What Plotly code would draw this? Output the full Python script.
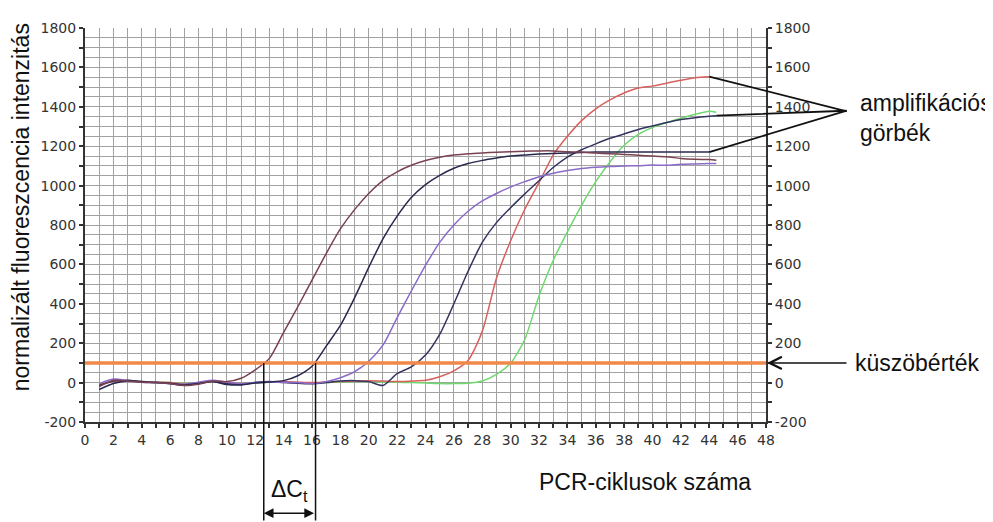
import plotly.graph_objects as go

# ---------------- data ----------------
cycles = list(range(1, 45)) + [44.5]

curve_a = [-20, 12, 8, 2, 0, -5, -15, -8, 8, 5, 22, 65, 123, 255, 385, 520, 655, 780, 878, 960,
           1025, 1070, 1103, 1127, 1144, 1155, 1162, 1166, 1169, 1172, 1174, 1176, 1176, 1172, 1170,
           1165, 1162, 1158, 1154, 1150, 1146, 1138, 1134, 1132, 1129]
curve_b = [-35, -5, 10, 5, 0, -3, -12, -5, 5, -10, -12, -2, 3, 10, 35, 83, 185, 290, 430, 585,
           730, 845, 940, 1005, 1052, 1088, 1112, 1128, 1140, 1150, 1155, 1160, 1163, 1166, 1168,
           1170, 1170, 1170, 1170, 1170, 1170, 1170, 1170, 1170, None]
curve_c = [-5, 18, 10, 2, 0, -4, -8, 2, 12, 2, -5, 0, 3, 2, 0, -5, 5, 25, 55, 108,
           190, 330, 465, 595, 712, 800, 870, 922, 960, 993, 1020, 1045, 1063, 1077, 1087,
           1093, 1097, 1100, 1101, 1104, 1103, 1108, 1110, 1112, 1112]
curve_d = [-15, 8, 12, 3, 0, -6, -14, -4, 6, -6, -10, 0, 5, 0, -3, -6, 0, 8, 10, 5,
           -15, 45, 80, 140, 245, 400, 565, 712, 812, 888, 958, 1025, 1092, 1145, 1182,
           1212, 1240, 1262, 1285, 1303, 1320, 1335, 1345, 1352, 1355]
curve_e = [-10, 5, 8, 5, 2, 0, -8, -3, 5, 0, -5, 0, 3, 5, 2, 0, 3, 5, 8, 10,
           8, 5, 8, 12, 30, 60, 112, 260, 530, 720, 880, 1015, 1155, 1250, 1330,
           1390, 1435, 1470, 1495, 1505, 1520, 1535, 1548, 1553, None]
curve_f = [-5, 5, 8, 5, 3, 0, -5, 0, 3, 0, -3, 0, 2, 3, 0, -2, 0, 3, 5, 5,
           3, 2, 0, -2, -5, -5, -3, 8, 42, 98, 220, 440, 620, 765, 900,
           1020, 1120, 1205, 1260, 1295, 1320, 1342, 1362, 1378, 1372]

threshold_value = 100
threshold_x = [0, 48]
ct_values = [12.6, 16.25]

x_tick_vals = list(range(0, 49))
x_tick_text = [str(v) if v % 2 == 0 else "" for v in x_tick_vals]
y_tick_vals = list(range(-200, 1801, 100))
y_tick_text = [str(v) if v % 200 == 0 else "" for v in y_tick_vals]

label_y = "normalizált fluoreszcencia intenzitás"
label_x = "PCR-ciklusok száma"
label_curves = "amplifikációs<br>görbék"
label_threshold = "küszöbérték"
label_dct = "ΔC<sub>t</sub>"

# ---------------- figure ----------------
series = [
    (curve_f, "#6fd86f"),
    (curve_e, "#d8605e"),
    (curve_d, "#33335f"),
    (curve_c, "#8a6bc9"),
    (curve_b, "#28284f"),
    (curve_a, "#7a4150"),
]

fig = go.Figure()
for vals, col in series:
    fig.add_trace(go.Scatter(x=cycles, y=vals, mode="lines",
                             line=dict(color=col, width=1.5, shape="spline", smoothing=0.7),
                             connectgaps=False, showlegend=False, hoverinfo="skip"))

fig.add_trace(go.Scatter(x=threshold_x, y=[threshold_value] * 2, mode="lines",
                         line=dict(color="#f0884a", width=3.5), yaxis="y2",
                         showlegend=False, hoverinfo="skip"))

tick_font = dict(family="DejaVu Sans", size=14, color="#333")
grid_col = "#a2a2a2"

fig.update_layout(
    width=985, height=514, autosize=False,
    margin=dict(l=77, r=227, t=12, b=100),
    paper_bgcolor="white", plot_bgcolor="white",
    font=dict(family="Liberation Sans", color="#111"),
    xaxis=dict(range=[0, 48], tickmode="array", tickvals=x_tick_vals, ticktext=x_tick_text,
               showgrid=True, gridcolor=grid_col, gridwidth=1.4,
               showline=True, linecolor="#333", linewidth=2,
               ticks="outside", ticklen=4, tickwidth=1.5, tickcolor="#333",
               tickfont=tick_font, zeroline=False),
    yaxis=dict(range=[-200, 1800], tickmode="array", tickvals=y_tick_vals, ticktext=y_tick_text,
               showgrid=True, gridcolor=grid_col, gridwidth=1.4,
               minor=dict(dtick=50, tick0=0, showgrid=True, gridcolor=grid_col, gridwidth=1.4, ticks=""),
               showline=True, linecolor="#333", linewidth=2,
               ticks="outside", ticklen=4, tickwidth=1.5, tickcolor="#333",
               tickfont=tick_font, zeroline=False),
    yaxis2=dict(range=[-200, 1800], overlaying="y", side="right", tickmode="array",
                tickvals=y_tick_vals, ticktext=y_tick_text, showgrid=False,
                showline=True, linecolor="#333", linewidth=2,
                ticks="outside", ticklen=4, tickwidth=1.5, tickcolor="#333",
                tickfont=tick_font, zeroline=False),
)

big = dict(family="Liberation Sans", size=23, color="#111")
ann = []
# axis titles
ann.append(dict(text=label_y, xref="paper", yref="paper", x=-0.094, y=0.545,
                textangle=-90, showarrow=False, font=big, xanchor="center", yanchor="middle"))
ann.append(dict(text=label_x, xref="paper", yref="paper", x=0.822, y=-0.152,
                showarrow=False, font=big, xanchor="center", yanchor="middle"))
# curves label and pointer lines
ann.append(dict(text=label_curves, xref="paper", yref="paper", x=1.135, y=0.771,
                showarrow=False, font=big, xanchor="left", yanchor="middle", align="left"))
for cx, cy, ax_, ay_ in [(cycles[-2], curve_e[-2], 139, 35),
                         (cycles[-1], curve_d[-1], 131, -5),
                         (cycles[-2], curve_b[-2], 139, -42)]:
    ann.append(dict(text="", x=cx, y=cy, xref="x", yref="y", ax=ax_, ay=ay_,
                    showarrow=True, arrowhead=0, arrowwidth=1.8, arrowcolor="#111",
                    standoff=0, startstandoff=0))
# threshold label
ann.append(dict(text=label_threshold, xref="paper", yref="y", x=1.128, y=threshold_value,
                showarrow=False, font=big, xanchor="left", yanchor="middle"))
ann.append(dict(text="", x=48, y=threshold_value, xref="x", yref="y", ax=82, ay=0,
                showarrow=True, arrowhead=5, arrowsize=1.6, arrowwidth=1.5, arrowcolor="#111",
                standoff=1))
# delta Ct
for ct in ct_values:
    ann.append(dict(text="", x=ct, y=threshold_value, xref="x", yref="y", ax=0, ay=170,
                    showarrow=True, arrowhead=0, arrowwidth=1.5, arrowcolor="#111",
                    standoff=0, startstandoff=0))
ann.append(dict(text="", x=ct_values[0], y=-0.2313, xref="x", yref="paper",
                ax=ct_values[1], ay=0, axref="x", ayref="pixel",
                showarrow=True, arrowhead=2, arrowside="end+start", arrowsize=1.3,
                arrowwidth=1.5, arrowcolor="#111", standoff=0, startstandoff=0))
ann.append(dict(text=label_dct, x=sum(ct_values) / 2, y=-0.175, xref="x", yref="paper",
                showarrow=False, font=big, xanchor="center", yanchor="middle"))

fig.update_layout(annotations=ann)
fig.write_html("out.html")
